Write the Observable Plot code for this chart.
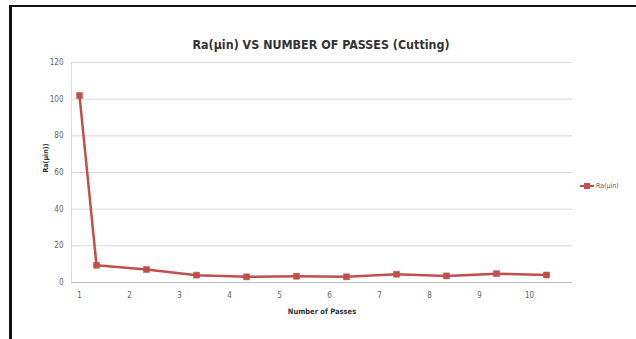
<!DOCTYPE html>
<html>
<head>
<meta charset="utf-8">
<script src="https://cdn.jsdelivr.net/npm/d3@7"></script>
<script src="https://cdn.jsdelivr.net/npm/@observablehq/plot@0.6"></script>
<style>
  html, body { margin: 0; padding: 0; background: #fff; }
  #wrap { position: relative; width: 636px; height: 339px; overflow: hidden; background: #fff; }
  #wrap svg { position: absolute; left: 0; top: 0; }
  .frame-top { position: absolute; left: 9px; top: 5px; width: 627px; height: 2px; background: #111; }
  .frame-left { position: absolute; left: 9px; top: 5px; width: 3px; height: 334px; background: #111; }
  #legend { position: absolute; left: 580px; top: 182px; display: flex; align-items: center;
            font: 7px "DejaVu Sans Condensed", sans-serif; color: #595959; }
  #legend svg { position: static; margin-right: 2px; }
</style>
</head>
<body>
<div id="wrap">
  <div class="frame-top"></div>
  <div class="frame-left"></div>
</div>
<script>
// Surface roughness Ra (µin) measured after each cutting pass
const passes = [1, 1.34, 2.34, 3.34, 4.34, 5.34, 6.34, 7.34, 8.34, 9.34, 10.34];
const ra = [102, 9.4, 7.1, 4.0, 3.1, 3.4, 3.1, 4.5, 3.6, 4.8, 4.1];
const xTicks = [1, 2, 3, 4, 5, 6, 7, 8, 9, 10];
const yTicks = [0, 20, 40, 60, 80, 100, 120];
const seriesName = "Ra(µin)";
const titleText = "Ra(µin) VS NUMBER OF PASSES (Cutting)";
const xLabel = "Number of Passes";
const yLabel = "Ra(µin))";

const red = "#c0504d";
const data = passes.map((p, i) => ({pass: p, ra: ra[i]}));
const condensed = "'DejaVu Sans Condensed', sans-serif";

const chart = Plot.plot({
  width: 636,
  height: 339,
  marginLeft: 71,
  marginRight: 64,
  marginTop: 62,
  marginBottom: 57,
  style: {fontFamily: condensed, background: "transparent", overflow: "visible"},
  x: {domain: [0.84, 10.86], label: null},
  y: {domain: [0, 120], label: null},
  marks: [
    Plot.gridY(yTicks.filter(d => d > 0), {stroke: "#d9d9d9", strokeOpacity: 1, strokeWidth: 1}),
    Plot.ruleX([0.84], {stroke: "#d9d9d9", strokeWidth: 1}),
    Plot.ruleY([0], {stroke: "#bfbfbf", strokeWidth: 1}),
    Plot.line(data, {x: "pass", y: "ra", stroke: red, strokeWidth: 2.5}),
    Plot.dot(data, {x: "pass", y: "ra", symbol: "square", r: 3.4, fill: red, stroke: red, strokeWidth: 0.5}),
    Plot.axisX(xTicks, {tickSize: 0, tickPadding: 10, fontSize: 8, fill: "#666", tickFormat: d => String(d)}),
    Plot.axisY(yTicks, {tickSize: 0, tickPadding: 8, fontSize: 8, fill: "#666"}),
    Plot.text([xLabel], {frameAnchor: "bottom", dy: 31, fontSize: 7.5, fontWeight: "bold", fill: "#333",
                         letterSpacing: "-0.6px"}),
    Plot.text([yLabel], {frameAnchor: "left", dx: -26, rotate: -90, fontSize: 7, fontWeight: "bold", fill: "#333"}),
    Plot.text([titleText], {frameAnchor: "top", dx: -1, dy: -22, fontSize: 12.4, fontWeight: "bold", fill: "#333"})
  ]
});

const wrap = document.getElementById("wrap");
wrap.appendChild(chart);

// Series legend on the right
const legend = document.createElement("div");
legend.id = "legend";
legend.innerHTML =
  `<svg width="14" height="8"><line x1="0" y1="4" x2="14" y2="4" stroke="${red}" stroke-width="2"/>` +
  `<rect x="4" y="1" width="6" height="6" fill="${red}"/></svg><span>${seriesName}</span>`;
wrap.appendChild(legend);
</script>
</body>
</html>
